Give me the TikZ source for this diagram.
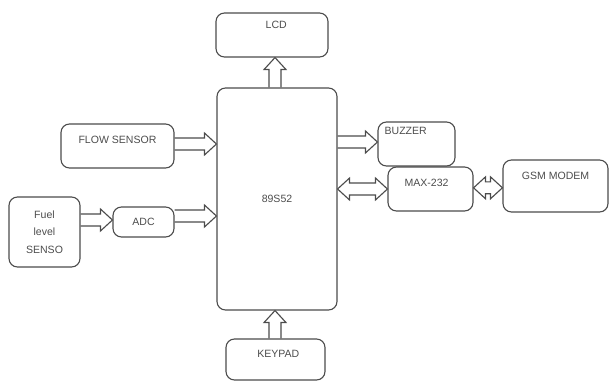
\documentclass[tikz,border=0pt]{standalone}
\usepackage{fontspec}
\setmainfont{Liberation Sans}
\usetikzlibrary{arrows.meta, positioning, calc}

\tikzset{
    block/.style={draw=black!70, line width=0.8pt, rounded corners=6pt, inner sep=0pt,
        font=\fontsize{7.5}{9}\selectfont, text=black!70, align=center},
    blocklabel/.style={anchor=north, inner sep=0pt, font=\fontsize{7.5}{9}\selectfont, text=black!70},
    busline/.style={draw=black!70, line width=0.8pt, line join=miter}
}

% hollow one-way bus arrow from #1 to #2
\newcommand{\busarrow}[2]{%
    \draw[busline] let \p1=(#1), \p2=(#2), \p3=($(#2)!8.5pt!(#1)$), \p4=($(#1)!1pt!90:(#2)$) in
        ({\x1+4.25*(\x4-\x1)},{\y1+4.25*(\y4-\y1)}) -- ({\x3+4.25*(\x4-\x1)},{\y3+4.25*(\y4-\y1)})
        -- ({\x3+7.8*(\x4-\x1)},{\y3+7.8*(\y4-\y1)}) -- (\p2)
        -- ({\x3-7.8*(\x4-\x1)},{\y3-7.8*(\y4-\y1)}) -- ({\x3-4.25*(\x4-\x1)},{\y3-4.25*(\y4-\y1)})
        -- ({\x1-4.25*(\x4-\x1)},{\y1-4.25*(\y4-\y1)});}
% hollow two-way bus arrow between #1 and #2
\newcommand{\busboth}[2]{%
    \draw[busline] let \p1=(#1), \p2=(#2), \p3=($(#2)!8.5pt!(#1)$), \p5=($(#1)!8.5pt!(#2)$), \p4=($(#1)!1pt!90:(#2)$) in
        ({\x5+4.25*(\x4-\x1)},{\y5+4.25*(\y4-\y1)}) -- ({\x3+4.25*(\x4-\x1)},{\y3+4.25*(\y4-\y1)})
        -- ({\x3+7.8*(\x4-\x1)},{\y3+7.8*(\y4-\y1)}) -- (\p2)
        -- ({\x3-7.8*(\x4-\x1)},{\y3-7.8*(\y4-\y1)}) -- ({\x3-4.25*(\x4-\x1)},{\y3-4.25*(\y4-\y1)})
        -- ({\x5-4.25*(\x4-\x1)},{\y5-4.25*(\y4-\y1)}) -- ({\x5-7.8*(\x4-\x1)},{\y5-7.8*(\y4-\y1)})
        -- (\p1) -- ({\x5+7.8*(\x4-\x1)},{\y5+7.8*(\y4-\y1)}) -- cycle;}

\begin{document}
\begin{tikzpicture}
        % Fix the picture size to the reference
        \useasboundingbox (0,0) rectangle (15.275,-9.55);
        % Microcontroller in the middle
        \node[block, minimum width=3cm, minimum height=5.55cm] (mcu) at (6.925,-4.975) {89S52};
        % Blocks around it
        \node[block, minimum width=2.8cm, minimum height=1.1cm,
            label={[blocklabel, xshift=3pt, yshift=-0.22cm]north:LCD}] (lcd) at (6.8,-0.875) {};
        \node[block, minimum width=2.825cm, minimum height=1.1cm,
            label={[blocklabel, yshift=-0.32cm]north:FLOW SENSOR}] (flow) at (2.9375,-3.65) {};
        \node[block, minimum width=1.775cm, minimum height=1.75cm, font=\fontsize{7.5}{12.5}\selectfont] (fuel) at (1.1125,-5.8) {Fuel\\level\\SENSO};
        \node[block, minimum width=1.525cm, minimum height=0.75cm] (adc) at (3.5875,-5.55) {ADC};
        \node[block, minimum width=1.925cm, minimum height=1.1cm,
            label={[blocklabel, xshift=-0.27cm, yshift=-0.13cm]north:BUZZER}] (buzzer) at (10.4125,-3.6) {};
        \node[block, minimum width=2.125cm, minimum height=1.1cm,
            label={[blocklabel, xshift=-0.1cm, yshift=-0.3cm]north:MAX-232}] (max) at (10.7625,-4.725) {};
        \node[block, minimum width=2.625cm, minimum height=1.3cm,
            label={[blocklabel, yshift=-0.3cm]north:GSM MODEM}] (gsm) at (13.8875,-4.65) {};
        \node[block, minimum width=2.475cm, minimum height=1.025cm,
            label={[blocklabel, xshift=2pt, yshift=-0.28cm]north:KEYPAD}] (keypad) at (6.8875,-8.9875) {};
        % Arrow ends
        \coordinate (lcdout) at ($(mcu.north)+(-0.05,0)$);
        \coordinate (lcdin) at (lcdout |- lcd.south);
        \coordinate (flowout) at ($(flow.east)+(0,0.05)$);
        \coordinate (flowin) at (flowout -| mcu.west);
        \coordinate (fuelout) at ($(fuel.east)+(0,0.3)$);
        \coordinate (fuelin) at (fuelout -| adc.west);
        \coordinate (adcout) at ($(adc.east)+(0,0.15)$);
        \coordinate (adcin) at (adcout -| mcu.west);
        \coordinate (buzzin) at ($(buzzer.west)+(0,0.05)$);
        \coordinate (buzzout) at (buzzin -| mcu.east);
        \coordinate (maxbus) at (max.west -| mcu.east);
        \coordinate (maxout) at ($(max.east)+(0,0.03)$);
        \coordinate (gsmin) at (maxout -| gsm.west);
        \coordinate (keyout) at ($(keypad.north)+(-0.0125,0)$);
        \coordinate (keyin) at (keyout |- mcu.south);
        % Hollow bus arrows
        \busarrow{lcdout}{lcdin}
        \busarrow{flowout}{flowin}
        \busarrow{fuelout}{fuelin}
        \busarrow{adcout}{adcin}
        \busarrow{buzzout}{buzzin}
        \busboth{maxbus}{max.west}
        \busboth{maxout}{gsmin}
        \busarrow{keyout}{keyin}
\end{tikzpicture}
\end{document}
